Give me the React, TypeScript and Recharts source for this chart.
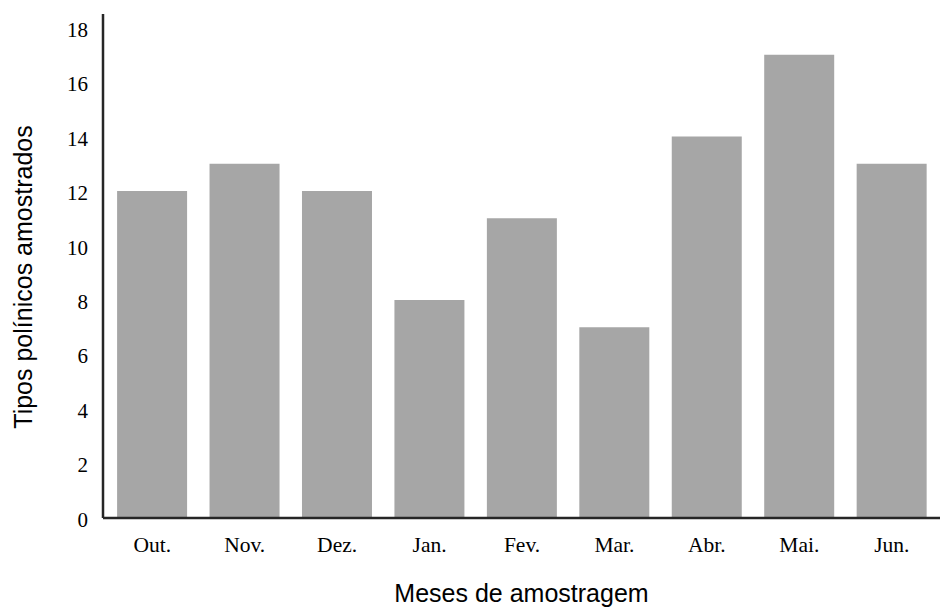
import { BarChart, Bar, XAxis, YAxis, Label } from 'recharts';

const months = ['Out.', 'Nov.', 'Dez.', 'Jan.', 'Fev.', 'Mar.', 'Abr.', 'Mai.', 'Jun.'];
const pollenTypes = [12, 13, 12, 8, 11, 7, 14, 17, 13];
const yTicks = [0, 2, 4, 6, 8, 10, 12, 14, 16, 18];

const data = months.map((month, i) => ({ month, value: pollenTypes[i] }));

const serif = '"Liberation Serif", "Times New Roman", serif';
const labelFont = '"Liberation Sans", Arial, sans-serif';

const App = () => {
  return (
    <div style={{ position: 'absolute', left: 0, top: 0 }}>
      <BarChart
        width={941}
        height={608}
        data={data}
        margin={{ top: 14, right: 1, bottom: 30, left: 0 }}
        barCategoryGap="12%"
      >
        <XAxis
          dataKey="month"
          height={60}
          padding={{ left: 3, right: 2 }}
          tickLine={false}
          tickSize={0}
          tickMargin={19}
          tick={{ fill: '#000', fontSize: 21.5, fontFamily: serif }}
          axisLine={{ stroke: '#262626', strokeWidth: 2.5 }}
        >
          <Label
            content={({ viewBox }: any) => (
              <text
                x={viewBox.x + viewBox.width / 2}
                y={593}
                textAnchor="middle"
                dominantBaseline="central"
                fontSize={25}
                fontFamily={labelFont}
                fill="#000"
              >
                Meses de amostragem
              </text>
            )}
          />
        </XAxis>
        <YAxis
          width={103}
          domain={[0, 18.5]}
          ticks={yTicks}
          interval={0}
          tickLine={false}
          tickSize={0}
          tickMargin={15}
          tick={{ fill: '#000', fontSize: 21, fontFamily: serif, dy: 1.5 }}
          axisLine={{ stroke: '#262626', strokeWidth: 2.5 }}
        >
          <Label
            content={() => (
              <text
                x={23}
                y={277}
                transform="rotate(-90 23 277)"
                textAnchor="middle"
                dominantBaseline="central"
                fontSize={25}
                fontFamily={labelFont}
                fill="#000"
              >
                Tipos polínicos amostrados
              </text>
            )}
          />
        </YAxis>
        <Bar dataKey="value" fill="#a6a6a6" isAnimationActive={false} />
      </BarChart>
    </div>
  );
};

export default App;
